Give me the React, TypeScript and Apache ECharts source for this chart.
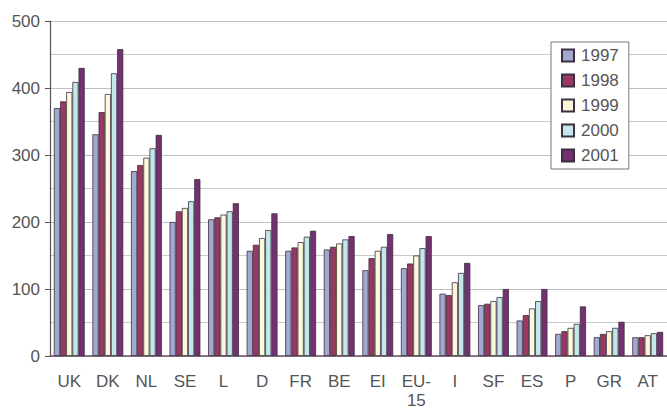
import React, { useEffect, useRef } from "react";
import * as echarts from "echarts";

const categories = ["UK", "DK", "NL", "SE", "L", "D", "FR", "BE", "EI", "EU-15", "I", "SF", "ES", "P", "GR", "AT"];
const years = ["1997", "1998", "1999", "2000", "2001"];
const v1997 = [370, 331, 276, 200, 204, 157, 157, 159, 128, 131, 93, 76, 53, 33, 28, 28];
const v1998 = [380, 364, 285, 216, 207, 166, 162, 163, 146, 138, 91, 78, 61, 37, 33, 28];
const v1999 = [394, 391, 296, 221, 211, 176, 170, 168, 157, 150, 110, 82, 71, 42, 37, 31];
const v2000 = [409, 422, 310, 231, 216, 188, 178, 174, 163, 161, 124, 88, 82, 48, 42, 34];
const v2001 = [430, 458, 330, 264, 228, 213, 187, 179, 182, 179, 139, 100, 100, 74, 51, 36];
const yTicks = [0, 100, 200, 300, 400, 500];

const seriesValues = [v1997, v1998, v1999, v2000, v2001];
const colors = ["#a3a8cf", "#9a3762", "#fdf8da", "#c3e7ea", "#743070"];

export default function App() {
  const ref = useRef<HTMLDivElement>(null);
  useEffect(() => {
    if (!ref.current) return;
    const chart = echarts.init(ref.current, undefined, { renderer: "svg" });
    const font = "'Liberation Sans', Arial, sans-serif";
    chart.setOption({
      animation: false,
      textStyle: { fontFamily: font },
      grid: { left: 50, right: 0, top: 21, bottom: 55 },
      legend: {
        orient: "vertical",
        left: 551,
        top: 42,
        data: years,
        backgroundColor: "#ffffff",
        borderColor: "#777777",
        borderWidth: 1,
        borderRadius: 0,
        padding: [5, 10, 5, 10],
        itemWidth: 12,
        itemHeight: 12,
        itemGap: 8,
        icon: "rect",
        textStyle: { fontSize: 17, color: "#555555", fontFamily: font, padding: [0, 0, 0, 2] },
      },
      xAxis: {
        type: "category",
        data: categories,
        axisLine: { lineStyle: { color: "#6a5060", width: 1.5 } },
        axisTick: { show: false },
        axisLabel: {
          color: "#555555",
          fontSize: 17,
          margin: 16,
          lineHeight: 19,
          interval: 0,
          formatter: (v: string) => (v === "EU-15" ? "EU-\n15" : v),
        },
      },
      yAxis: {
        type: "value",
        min: yTicks[0],
        max: yTicks[yTicks.length - 1],
        interval: 100,
        axisLine: { show: true, lineStyle: { color: "#555555", width: 1.2 } },
        axisTick: { show: true, length: 5, lineStyle: { color: "#555555" } },
        axisLabel: { color: "#555555", fontSize: 17, margin: 10 },
        splitLine: { show: true, lineStyle: { color: "#c0c0c0", width: 1 } },
        minorTick: { show: false, splitNumber: 2 },
        minorSplitLine: { show: true, lineStyle: { color: "#cacaca", width: 1 } },
      },
      series: years.map((y, i) => ({
        name: y,
        type: "bar",
        data: seriesValues[i],
        barGap: "0%",
        barCategoryGap: "20%",
        itemStyle: { color: colors[i], borderColor: "#3a3040", borderWidth: 0.8 },
      })),
    });
    return () => chart.dispose();
  }, []);
  return <div ref={ref} style={{ width: 667, height: 411, position: "absolute", left: 0, top: 0 }} />;
}
